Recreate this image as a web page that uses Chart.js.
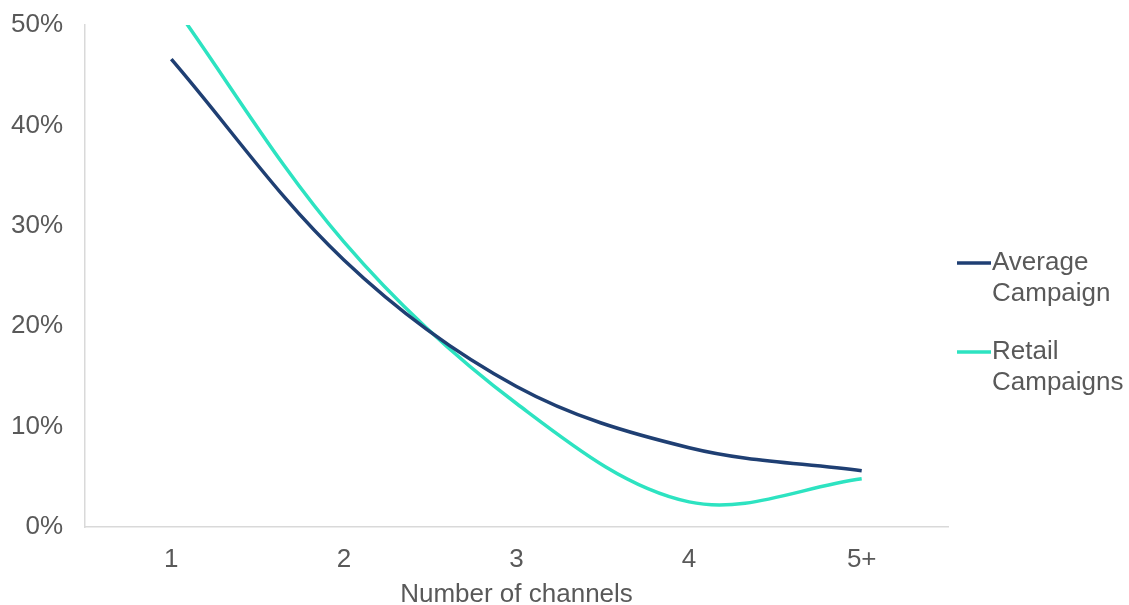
<!DOCTYPE html>
<html>
<head>
<title>Number of channels</title>
<script src="https://cdn.jsdelivr.net/npm/chart.js@4/dist/chart.umd.min.js"></script>
<style>
  html, body { margin: 0; padding: 0; background: #fff; }
  #holder { width: 1129px; height: 605px; }
</style>
</head>
<body>
<div id="holder"><canvas id="linecanvas"></canvas></div>
<script>
// data
var channels = ["1", "2", "3", "4", "5+"];
var averageCampaign = [46.6, 26.6, 14.0, 7.9, 5.6];
var retailCampaigns = [52.3, 28.4, 12.3, 2.5, 4.8];
var seriesNames = [["Average", "Campaign"], ["Retail", "Campaigns"]];
var seriesColors = ["#1F3F73", "#2DE3C1"];

var textColor = "#595959";
var fontFamily = "'Liberation Sans', Arial, sans-serif";

// legend on the right, text wraps over two lines
var sideLegend = {
    id: "sideLegend",
    afterDraw: function(chart) {
        var ctx = chart.ctx;
        var rows = [263, 352];
        ctx.save();
        ctx.font = "26px " + fontFamily;
        ctx.textBaseline = "middle";
        ctx.textAlign = "left";
        for (var i = 0; i < seriesNames.length; i++) {
            var y = rows[i];
            ctx.strokeStyle = seriesColors[i];
            ctx.lineWidth = 3.5;
            ctx.beginPath();
            ctx.moveTo(957, y);
            ctx.lineTo(991, y);
            ctx.stroke();
            ctx.fillStyle = textColor;
            ctx.fillText(seriesNames[i][0], 992, y);
            ctx.fillText(seriesNames[i][1], 992, y + 31);
        }
        ctx.restore();
    }
};

var config = {
    type: "line",
    data: {
        labels: channels,
        datasets: [{
            label: seriesNames[0].join(" "),
            data: averageCampaign,
            borderColor: seriesColors[0],
            borderWidth: 3.5,
            pointRadius: 0,
            tension: 0.35,
            clip: 0
        }, {
            label: seriesNames[1].join(" "),
            data: retailCampaigns,
            borderColor: seriesColors[1],
            borderWidth: 3.5,
            pointRadius: 0,
            tension: 0.35,
            clip: 0
        }]
    },
    options: {
        responsive: true,
        maintainAspectRatio: false,
        animation: false,
        layout: { padding: { top: 25, right: 181, bottom: 0, left: 0 } },
        plugins: {
            legend: { display: false },
            tooltip: { enabled: false }
        },
        scales: {
            x: {
                offset: true,
                grid: { display: false, drawTicks: false },
                border: { display: true, color: "#D9D9D9", width: 1.5 },
                ticks: { color: textColor, font: { family: fontFamily, size: 26 }, padding: 17 },
                title: {
                    display: true,
                    text: "Number of channels",
                    color: textColor,
                    font: { family: fontFamily, size: 26 },
                    padding: { top: 4, bottom: -5 }
                },
                afterFit: function(scale) { scale.height = 78; }
            },
            y: {
                min: 0,
                max: 50,
                grid: { display: false, drawTicks: false },
                border: { display: true, color: "#D9D9D9", width: 1.5 },
                ticks: {
                    stepSize: 10,
                    color: textColor,
                    font: { family: fontFamily, size: 26 },
                    padding: 22,
                    callback: function(v) { return v + "%"; }
                },
                afterFit: function(scale) {
                    scale.width = 85;
                    scale.paddingTop = 0;
                    scale.paddingBottom = 0;
                }
            }
        }
    },
    plugins: [sideLegend]
};

var ctx = document.getElementById("linecanvas").getContext("2d");
window.myLine = new Chart(ctx, config);
</script>
</body>
</html>
